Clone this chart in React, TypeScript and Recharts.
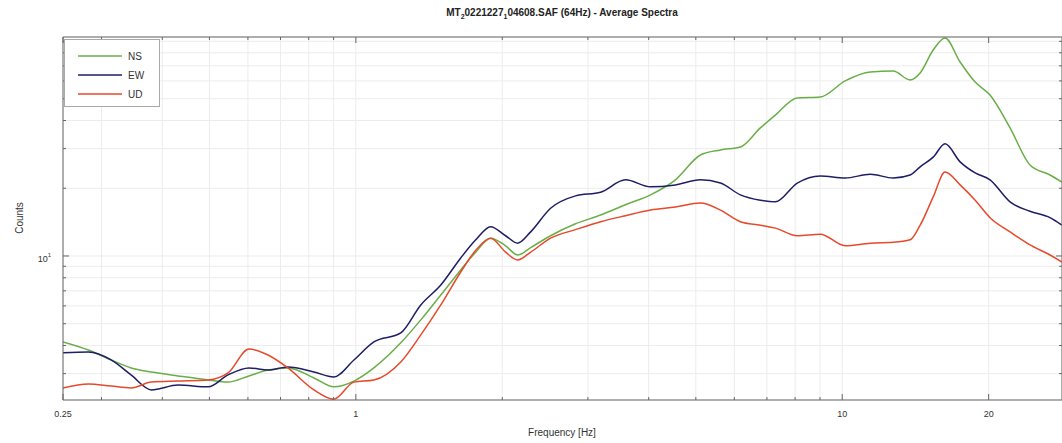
import React from 'react';
import { LineChart, Line, XAxis, YAxis, CartesianGrid, Legend } from 'recharts';

// frequency (Hz) and average spectra (counts)
const frequencies = [
  0.25, 0.282, 0.314, 0.345, 0.38, 0.431, 0.497, 0.546, 0.603, 0.66, 0.725, 0.82, 0.901, 0.991,
  1.089, 1.237, 1.36, 1.495, 1.643, 1.764, 1.893, 2.032, 2.151, 2.288, 2.514, 2.829, 3.185,
  3.584, 4.035, 4.541, 5.11, 5.617, 6.174, 6.786, 7.286, 8.081, 9.012, 10.14, 11.42, 12.73,
  13.79, 14.46, 15.38, 16.27, 17.47, 18.76, 20.13, 22.13, 24.32, 26.74, 28.29,
];

const nsCounts = [
  4.15, 3.82, 3.45, 3.18, 3.05, 2.93, 2.81, 2.75, 2.93, 3.11, 3.18, 2.87, 2.62, 2.78,
  3.18, 4.11, 5.2, 6.71, 8.67, 10.4, 12.0, 11.1, 10.1, 10.9, 12.3, 13.9, 15.2,
  16.9, 18.7, 21.8, 28.1, 29.6, 30.5, 37.1, 42.3, 50.4, 50.9, 60.0, 65.7, 66.4,
  60.6, 65.1, 82.3, 93.1, 72.8, 59.3, 51.9, 37.1, 25.4, 22.9, 21.3,
];

const ewCounts = [
  3.71, 3.74, 3.45, 2.96, 2.54, 2.67, 2.62, 2.96, 3.18, 3.11, 3.21, 3.05, 2.9, 3.45,
  4.15, 4.55, 6.06, 7.43, 9.8, 11.8, 13.5, 12.3, 11.4, 12.8, 16.3, 18.5, 19.2,
  21.8, 20.3, 20.7, 21.8, 21.1, 18.7, 17.7, 17.4, 21.1, 22.7, 22.2, 23.1, 22.2,
  22.9, 24.9, 27.5, 31.5, 26.2, 23.4, 21.8, 17.4, 15.8, 14.8, 13.7,
];

const udCounts = [
  2.59, 2.7, 2.64, 2.59, 2.75, 2.78, 2.81, 3.02, 3.86, 3.63, 3.18, 2.54, 2.31, 2.75,
  2.81, 3.38, 4.46, 6.06, 8.49, 10.6, 12.0, 10.4, 9.6, 10.4, 12.0, 13.1, 14.2,
  15.1, 16.0, 16.5, 17.2, 16.0, 14.2, 13.7, 13.3, 12.3, 12.5, 11.1, 11.4, 11.5,
  11.8, 13.7, 18.3, 23.6, 20.7, 17.7, 14.8, 12.8, 11.2, 10.1, 9.4,
];

const xLabelTicks = [0.25, 1, 10, 20];
const xTicks = [0.25, 0.3, 0.4, 0.5, 0.6, 0.7, 0.8, 0.9, 1, 2, 3, 4, 5, 6, 7, 8, 9, 10, 20];
const yTicks = [3, 4, 5, 6, 7, 8, 9, 10, 20, 30, 40, 50, 60, 70, 80, 90];

const series = [
  { key: 'ns', name: 'NS', color: '#6aae48' },
  { key: 'ew', name: 'EW', color: '#1e1e66' },
  { key: 'ud', name: 'UD', color: '#e6492b' },
];

const data = frequencies.map((f, i) => ({
  f,
  ns: nsCounts[i],
  ew: ewCounts[i],
  ud: udCounts[i],
}));

const font = '"Liberation Sans", Arial, sans-serif';
const axisColor = '#666';

function BottomTick({ x, y, payload }: any) {
  const major = xLabelTicks.includes(payload.value);
  return (
    <g>
      <line x1={x} x2={x} y1={y} y2={y - (major ? 6 : 3)} stroke={axisColor} />
      {major && (
        <text x={x} y={y + 17} textAnchor="middle" fontSize={9} fill="#333" fontFamily={font}>
          {payload.value}
        </text>
      )}
    </g>
  );
}

function TopTick({ x, y, payload }: any) {
  const major = xLabelTicks.includes(payload.value);
  return <line x1={x} x2={x} y1={y} y2={y + (major ? 6 : 3)} stroke={axisColor} />;
}

function LeftTick({ x, y, payload }: any) {
  const major = payload.value === 10;
  return (
    <g>
      <line x1={x} x2={x + (major ? 6 : 3)} y1={y} y2={y} stroke={axisColor} />
      {major && (
        <text x={x - 12} y={y + 6} textAnchor="end" fontSize={9} fill="#333" fontFamily={font}>
          10<tspan dy={-5} fontSize={6}>1</tspan>
        </text>
      )}
    </g>
  );
}

function RightTick({ x, y, payload }: any) {
  const major = payload.value === 10;
  return <line x1={x} x2={x - (major ? 6 : 3)} y1={y} y2={y} stroke={axisColor} />;
}

function LegendBox() {
  return (
    <div
      style={{
        width: 96,
        height: 68,
        boxSizing: 'border-box',
        border: '1px solid #a8a8a8',
        background: '#fff',
        position: 'relative',
        fontFamily: font,
        fontSize: 10,
        color: '#333',
      }}
    >
      {series.map((s, i) => (
        <div key={s.key} style={{ position: 'absolute', left: 13, top: 9 + i * 19, height: 14, display: 'flex', alignItems: 'center' }}>
          <svg width={46} height={14}>
            <line x1={0} x2={44} y1={7} y2={7} stroke={s.color} strokeWidth={1.5} />
          </svg>
          <span style={{ marginLeft: 4 }}>{s.name}</span>
        </div>
      ))}
    </div>
  );
}

export default function App() {
  return (
    <div
      style={{
        position: 'absolute',
        left: 0,
        top: 0,
        width: 1062,
        height: 443,
        overflow: 'hidden',
        background: '#fff',
        fontFamily: font,
      }}
    >
      <div
        style={{
          position: 'absolute',
          top: 7,
          left: 262,
          width: 600,
          textAlign: 'center',
          fontSize: 10,
          fontWeight: 'bold',
          color: '#222',
        }}
      >
        MT<sub style={{ fontSize: 7 }}>2</sub>0221227<sub style={{ fontSize: 7 }}>1</sub>04608.SAF (64Hz) - Average Spectra
      </div>
      <div
        style={{
          position: 'absolute',
          left: 19,
          top: 218,
          transform: 'translate(-50%, -50%) rotate(-90deg)',
          fontSize: 10,
          color: '#333',
          whiteSpace: 'nowrap',
        }}
      >
        Counts
      </div>
      <div
        style={{
          position: 'absolute',
          left: 362,
          top: 427,
          width: 400,
          textAlign: 'center',
          fontSize: 10,
          color: '#333',
        }}
      >
        Frequency [Hz]
      </div>

      <LineChart width={1092} height={443} data={data} margin={{ top: 7, right: 0, bottom: 0, left: 0 }}>
        <CartesianGrid stroke="#ececec" />
        <XAxis
          dataKey="f"
          type="number"
          scale="log"
          domain={[0.25, 28.3]}
          allowDataOverflow
          ticks={xTicks}
          interval={0}
          height={43}
          tickSize={0}
          tickMargin={0}
          tickLine={false}
          axisLine={{ stroke: axisColor }}
          tick={<BottomTick />}
        />
        <XAxis
          xAxisId="top"
          orientation="top"
          dataKey="f"
          type="number"
          scale="log"
          domain={[0.25, 28.3]}
          allowDataOverflow
          ticks={xTicks}
          interval={0}
          height={30}
          tickSize={0}
          tickMargin={0}
          tickLine={false}
          axisLine={{ stroke: axisColor }}
          tick={<TopTick />}
        />
        <YAxis
          type="number"
          scale="log"
          domain={[2.29, 94.05]}
          allowDataOverflow
          ticks={yTicks}
          interval={0}
          width={63}
          tickSize={0}
          tickMargin={0}
          tickLine={false}
          axisLine={{ stroke: axisColor }}
          tick={<LeftTick />}
        />
        <YAxis
          yAxisId="right"
          orientation="right"
          type="number"
          scale="log"
          domain={[2.29, 94.05]}
          allowDataOverflow
          ticks={yTicks}
          interval={0}
          width={30}
          tickSize={0}
          tickMargin={0}
          tickLine={false}
          axisLine={{ stroke: axisColor }}
          tick={<RightTick />}
        />
        <Legend
          layout="vertical"
          align="center"
          verticalAlign="middle"
          content={<LegendBox />}
          wrapperStyle={{ position: 'absolute', left: 64, top: 39, width: 96, height: 68 }}
        />
        {series.map((s) => (
          <Line
            key={s.key}
            type="monotone"
            dataKey={s.key}
            name={s.name}
            stroke={s.color}
            strokeWidth={1.5}
            dot={false}
            isAnimationActive={false}
          />
        ))}
      </LineChart>
    </div>
  );
}
